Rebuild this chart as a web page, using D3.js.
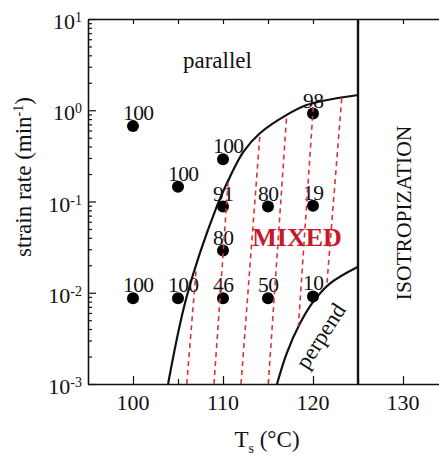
<!DOCTYPE html>
<html><head><meta charset="utf-8">
<script src="https://cdn.jsdelivr.net/npm/d3@7"></script>
<style>
html,body{margin:0;padding:0;background:#fff;}
svg{display:block;}
text{font-family:"Liberation Serif","Times New Roman",serif;fill:#111;}
</style></head><body>
<svg id="chart" width="439" height="456"></svg>
<script>
// Measured samples: temperature (°C), strain rate (1/min), parallel-orientation %
const ptTemp  = [100, 105, 110, 110, 110, 100, 105, 110, 115, 115, 120, 120, 120];
const ptRate  = [0.67, 0.145, 0.29, 0.088, 0.029, 0.0087, 0.0087, 0.0087, 0.088, 0.0087, 0.92, 0.09, 0.0091];
const ptLabel = ["100", "100", "100", "91", "80", "100", "100", "46", "80", "50", "98", "19", "10"];

// Boundary between the parallel and mixed regions
const parallelEdgeTemp = [103.9, 105.97, 109.3, 110.78, 112.26, 114.1, 117.08, 119.3, 121.14, 125];
const parallelEdgeRate = [0.001, 0.0091, 0.0877, 0.187, 0.35, 0.56, 0.89, 1.14, 1.27, 1.47];

// Boundary between the mixed and perpendicular regions
const perpendEdgeTemp = [116, 117.08, 118.56, 120.03, 121.9, 125];
const perpendEdgeRate = [0.001, 0.00217, 0.00462, 0.00798, 0.01268, 0.0193];

// Hatching of the mixed region: start/end of each dashed segment
const hatchTemp0 = [105.97, 109.0, 112.0, 115.03, 120.03, 123.19];
const hatchRate0 = [0.001, 0.001, 0.001, 0.001, 1.09, 1.35];
const hatchTemp1 = [107.03, 110.56, 114.1, 117.08, 118.37, 121.52];
const hatchRate1 = [0.0187, 0.16, 0.536, 0.887, 0.00425, 0.01165];

// Isotropization temperature
const isoTemp = 125;

// Axis ticks
const xTickValues = [100, 110, 120, 130];
const xMinorValues = [105, 115, 125];
const xTopValues = [100, 105, 110, 115, 120, 125, 130];
const yTickExps = [-3, -2, -1, 0, 1];

const svg = d3.select("#chart");
const x = d3.scaleLinear().domain([95, 134.9]).range([88, 447.1]);
const y = d3.scaleLog().domain([1e-3, 10]).range([384, 19]);

const yMajor = yTickExps.map(e => Math.pow(10, e));
const yMinor = [];
yTickExps.slice(0, -1).forEach(e => {
  for (let k = 2; k <= 9; k++) yMinor.push(k * Math.pow(10, e));
});

function styleAxis(g, w) {
  g.selectAll("path.domain").attr("stroke", "#111").attr("stroke-width", w);
  g.selectAll(".tick line").attr("stroke", "#111").attr("stroke-width", 1.2);
  g.selectAll(".tick text").remove();
}

// Frame and ticks
svg.append("g").attr("transform", "translate(0,384)")
  .call(d3.axisBottom(x).tickValues(xTickValues).tickSize(-8).tickSizeOuter(0))
  .call(g => styleAxis(g, 1.6));
svg.append("g").attr("transform", "translate(0,384)")
  .call(d3.axisBottom(x).tickValues(xMinorValues).tickSize(-5).tickSizeOuter(0))
  .call(g => { styleAxis(g, 0); g.select("path.domain").remove(); });
svg.append("g").attr("transform", "translate(0,19)")
  .call(d3.axisTop(x).tickValues(xTopValues).tickSize(-5).tickSizeOuter(0))
  .call(g => styleAxis(g, 1.6));
svg.append("g").attr("transform", "translate(88,0)")
  .call(d3.axisLeft(y).tickValues(yMajor).tickSize(-8).tickSizeOuter(0))
  .call(g => styleAxis(g, 1.6));
svg.append("g").attr("transform", "translate(88,0)")
  .call(d3.axisLeft(y).tickValues(yMinor).tickSize(-4).tickSizeOuter(0))
  .call(g => { styleAxis(g, 0); g.select("path.domain").remove(); });
svg.append("g").attr("transform", "translate(447.1,0)")
  .call(d3.axisRight(y).tickValues(yMajor).tickSize(-8).tickSizeOuter(0))
  .call(g => styleAxis(g, 1.6));
svg.append("g").attr("transform", "translate(447.1,0)")
  .call(d3.axisRight(y).tickValues(yMinor).tickSize(-4).tickSizeOuter(0))
  .call(g => { styleAxis(g, 0); g.select("path.domain").remove(); });

// Tick labels
svg.append("g").selectAll("text").data(xTickValues).join("text")
  .attr("x", d => x(d)).attr("y", 410)
  .attr("text-anchor", "middle").attr("font-size", 22)
  .text(d => d);

const yLab = svg.append("g").selectAll("text").data(yTickExps).join("text")
  .attr("x", 82).attr("y", d => y(Math.pow(10, d)) + 10)
  .attr("text-anchor", "end").attr("font-size", 22);
yLab.append("tspan").text("10");
yLab.append("tspan").attr("font-size", 14).attr("dy", -7).text(d => String(d));

// Axis titles
const xt = svg.append("text").attr("x", 267).attr("y", 447)
  .attr("text-anchor", "middle").attr("font-size", 23);
xt.append("tspan").text("T");
xt.append("tspan").attr("font-size", 14).attr("dy", 6).text("s");
xt.append("tspan").attr("dy", -6).text(" (°C)");

const yt = svg.append("text").attr("transform", "translate(31,177) rotate(-90)")
  .attr("text-anchor", "middle").attr("font-size", 23);
yt.append("tspan").text("strain rate (min");
yt.append("tspan").attr("font-size", 14).attr("dy", -8).text("-1");
yt.append("tspan").attr("dy", 8).text(")");

// Phase boundaries
const line = d3.line().x(d => x(d[0])).y(d => y(d[1])).curve(d3.curveCatmullRom.alpha(0.5));
svg.append("path")
  .attr("d", line(parallelEdgeTemp.map((t, i) => [t, parallelEdgeRate[i]])))
  .attr("fill", "none").attr("stroke", "#111").attr("stroke-width", 2.2);
svg.append("path")
  .attr("d", line(perpendEdgeTemp.map((t, i) => [t, perpendEdgeRate[i]])))
  .attr("fill", "none").attr("stroke", "#111").attr("stroke-width", 2.2);
svg.append("line")
  .attr("x1", x(isoTemp)).attr("x2", x(isoTemp))
  .attr("y1", y(1e-3)).attr("y2", y(10))
  .attr("stroke", "#111").attr("stroke-width", 2.4);

// Region names
svg.append("text").attr("x", 183).attr("y", 68).attr("font-size", 23).text("parallel");
svg.append("text").attr("transform", "translate(327,340) rotate(-57)")
  .attr("text-anchor", "middle").attr("font-size", 22.5).text("perpend");
svg.append("text").attr("transform", "translate(411,213) rotate(-90)")
  .attr("text-anchor", "middle").attr("font-size", 21.5).text("ISOTROPIZATION");
svg.append("text").attr("x", 297).attr("y", 246)
  .attr("text-anchor", "middle").attr("font-size", 26).attr("font-weight", "bold")
  .style("fill", "#c41a2c").text("MIXED");

// Data points with labels
const pts = ptTemp.map((t, i) => ({t, r: ptRate[i], lab: ptLabel[i]}));
svg.append("g").selectAll("circle").data(pts).join("circle")
  .attr("cx", d => x(d.t)).attr("cy", d => y(d.r)).attr("r", 6).attr("fill", "#000");
svg.append("g").selectAll("text").data(pts).join("text")
  .attr("x", d => x(d.t) - 10).attr("y", d => y(d.r) - 6)
  .attr("font-size", 21.5).attr("letter-spacing", -0.6).text(d => d.lab);

// Dashed hatching of the mixed region
svg.append("g").selectAll("line").data(hatchTemp0).join("line")
  .attr("x1", (d, i) => x(d)).attr("y1", (d, i) => y(hatchRate0[i]))
  .attr("x2", (d, i) => x(hatchTemp1[i])).attr("y2", (d, i) => y(hatchRate1[i]))
  .attr("stroke", "#d8343a").attr("stroke-width", 1.6).attr("stroke-dasharray", "5,4");
</script>
</body></html>
